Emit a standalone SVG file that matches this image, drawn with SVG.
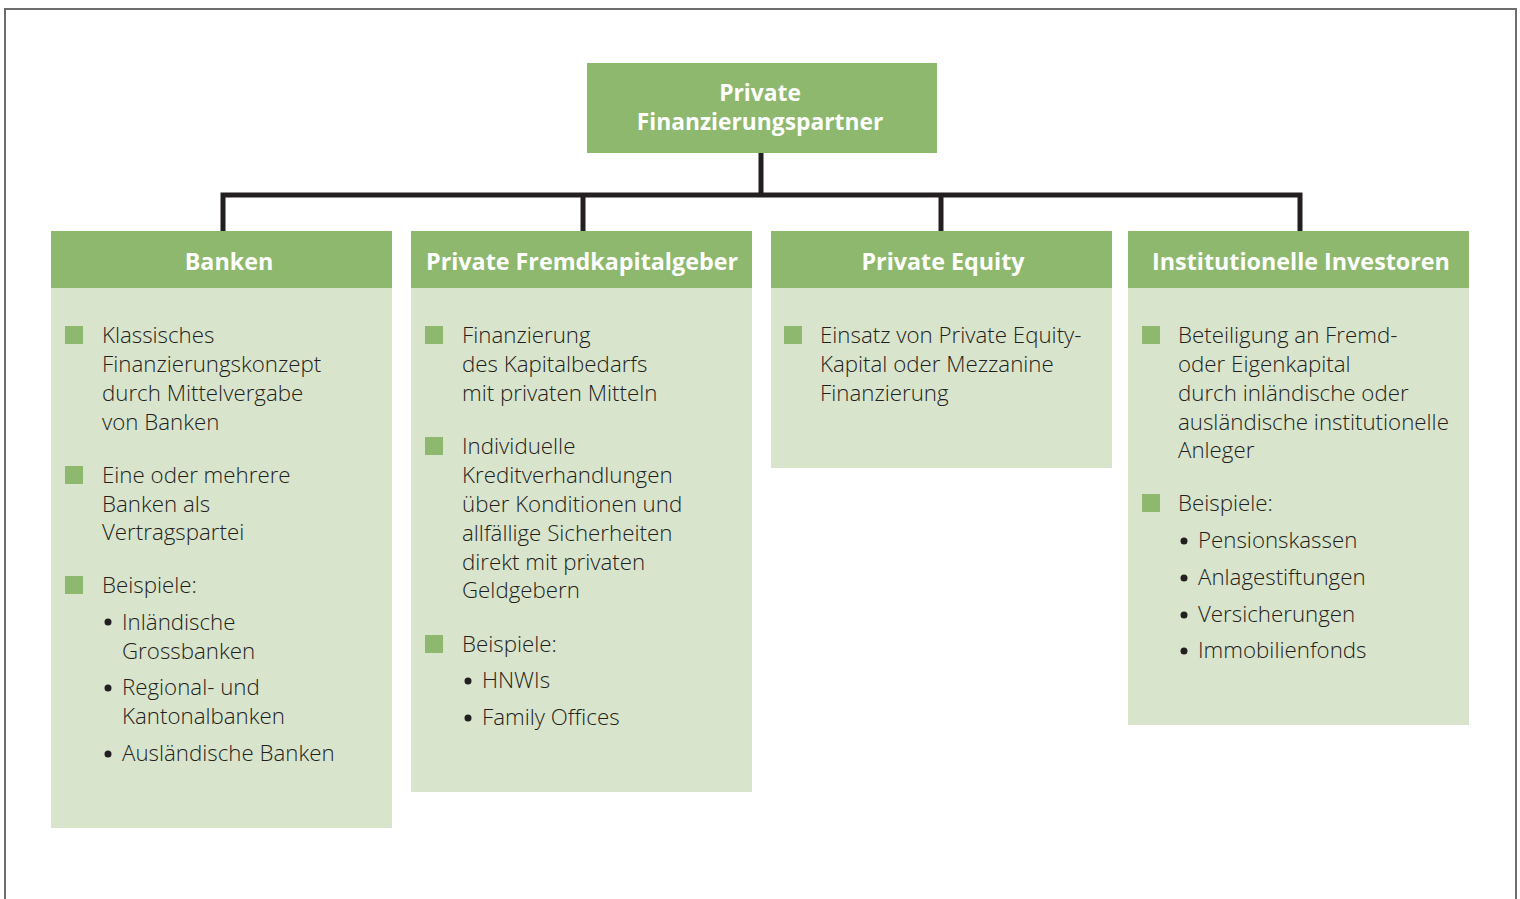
<svg xmlns="http://www.w3.org/2000/svg" width="1520" height="899" viewBox="0 0 1520 899">
<style>
.frame{fill:none;stroke:#6d6d6d;stroke-width:2}
.hd{fill:#8db86d}
.bd{fill:#d9e4cc}
.ht{font-family:"Open Sans","Liberation Sans",sans-serif;font-weight:700;font-size:23.3px;fill:#ffffff;text-anchor:middle}
.rt{font-size:22.8px}
.tx{font-family:"Open Sans","Liberation Sans",sans-serif;font-weight:300;font-size:22.3px;fill:#231f20}
.sq{fill:#8db86d}
.dot{fill:#231f20}
.con{fill:none;stroke:#231f20;stroke-width:5;stroke-linejoin:miter;stroke-linecap:butt}
</style>
<rect x="0" y="0" width="1520" height="899" fill="#ffffff"/>
<path class="frame" d="M5 905 V9 H1516 V905"/>
<g id="connectors">
<path class="con" d="M761 153 V195"/>
<path class="con" d="M223 231 V195 H1300 V231"/>
<path class="con" d="M583 195 V231"/>
<path class="con" d="M941 195 V231"/>
</g>
<g id="root">
<rect class="hd" x="587" y="63" width="350" height="90"/>
<text class="ht rt" x="760" y="101">Private</text>
<text class="ht rt" x="760" y="130">Finanzierungspartner</text>
</g>
<g id="banken">
<rect class="bd" x="51" y="231" width="341" height="597"/>
<rect class="hd" x="51" y="231" width="341" height="57"/>
<text class="ht" x="229" y="270">Banken</text>
<rect class="sq" x="65" y="326" width="18" height="18"/>
<rect class="sq" x="65" y="466" width="18" height="18"/>
<rect class="sq" x="65" y="576" width="18" height="18"/>
<circle class="dot" cx="108" cy="622" r="3.5"/>
<circle class="dot" cx="108" cy="688" r="3.5"/>
<circle class="dot" cx="108" cy="754" r="3.5"/>
<text class="tx" x="102" y="343">Klassisches</text>
<text class="tx" x="102" y="372">Finanzierungskonzept</text>
<text class="tx" x="102" y="401">durch Mittelvergabe</text>
<text class="tx" x="102" y="430">von Banken</text>
<text class="tx" x="102" y="483">Eine oder mehrere</text>
<text class="tx" x="102" y="512">Banken als</text>
<text class="tx" x="102" y="540">Vertragspartei</text>
<text class="tx" x="102" y="593">Beispiele:</text>
<text class="tx" x="122" y="630">Inländische</text>
<text class="tx" x="122" y="659">Grossbanken</text>
<text class="tx" x="122" y="695">Regional- und</text>
<text class="tx" x="122" y="724">Kantonalbanken</text>
<text class="tx" x="122" y="761">Ausländische Banken</text>
</g>
<g id="private-fremdkapitalgeber">
<rect class="bd" x="411" y="231" width="341" height="561"/>
<rect class="hd" x="411" y="231" width="341" height="57"/>
<text class="ht" x="582" y="270">Private Fremdkapitalgeber</text>
<rect class="sq" x="425" y="326" width="18" height="18"/>
<rect class="sq" x="425" y="437" width="18" height="18"/>
<rect class="sq" x="425" y="635" width="18" height="18"/>
<circle class="dot" cx="468" cy="681" r="3.5"/>
<circle class="dot" cx="468" cy="718" r="3.5"/>
<text class="tx" x="462" y="343">Finanzierung</text>
<text class="tx" x="462" y="372">des Kapitalbedarfs</text>
<text class="tx" x="462" y="401">mit privaten Mitteln</text>
<text class="tx" x="462" y="454">Individuelle</text>
<text class="tx" x="462" y="483">Kreditverhandlungen</text>
<text class="tx" x="462" y="512">über Konditionen und</text>
<text class="tx" x="462" y="541">allfällige Sicherheiten</text>
<text class="tx" x="462" y="570">direkt mit privaten</text>
<text class="tx" x="462" y="598">Geldgebern</text>
<text class="tx" x="462" y="652">Beispiele:</text>
<text class="tx" x="482" y="688">HNWIs</text>
<text class="tx" x="482" y="725">Family Offices</text>
</g>
<g id="private-equity">
<rect class="bd" x="771" y="231" width="341" height="237"/>
<rect class="hd" x="771" y="231" width="341" height="57"/>
<text class="ht" x="943" y="270">Private Equity</text>
<rect class="sq" x="784" y="326" width="18" height="18"/>
<text class="tx" x="820" y="343">Einsatz von Private Equity-</text>
<text class="tx" x="820" y="372">Kapital oder Mezzanine</text>
<text class="tx" x="820" y="401">Finanzierung</text>
</g>
<g id="institutionelle-investoren">
<rect class="bd" x="1128" y="231" width="341" height="494"/>
<rect class="hd" x="1128" y="231" width="341" height="57"/>
<text class="ht" x="1301" y="270">Institutionelle Investoren</text>
<rect class="sq" x="1142" y="326" width="18" height="18"/>
<rect class="sq" x="1142" y="494" width="18" height="18"/>
<circle class="dot" cx="1184" cy="541" r="3.5"/>
<circle class="dot" cx="1184" cy="578" r="3.5"/>
<circle class="dot" cx="1184" cy="615" r="3.5"/>
<circle class="dot" cx="1184" cy="651" r="3.5"/>
<text class="tx" x="1178" y="343">Beteiligung an Fremd-</text>
<text class="tx" x="1178" y="372">oder Eigenkapital</text>
<text class="tx" x="1178" y="401">durch inländische oder</text>
<text class="tx" x="1178" y="430">ausländische institutionelle</text>
<text class="tx" x="1178" y="458">Anleger</text>
<text class="tx" x="1178" y="511">Beispiele:</text>
<text class="tx" x="1198" y="548">Pensionskassen</text>
<text class="tx" x="1198" y="585">Anlagestiftungen</text>
<text class="tx" x="1198" y="622">Versicherungen</text>
<text class="tx" x="1198" y="658">Immobilienfonds</text>
</g>
</svg>
